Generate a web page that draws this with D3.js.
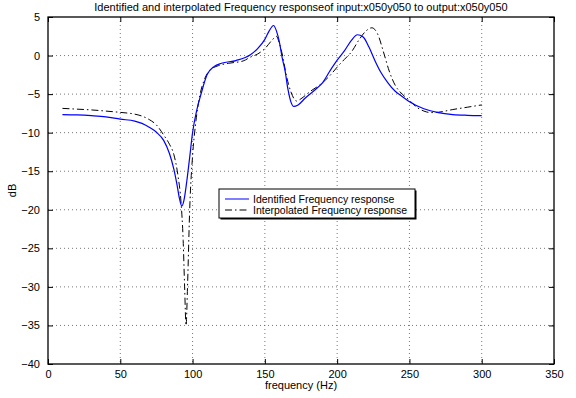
<!DOCTYPE html>
<html>
<head>
<meta charset="utf-8">
<script src="https://cdn.jsdelivr.net/npm/d3@7"></script>
<style>
  body { margin: 0; background: #fff; }
  svg { display: block; font-family: "Liberation Sans", Arial, sans-serif; }
</style>
</head>
<body>
<div id="chart"></div>
<script>
// identified response (blue, solid)
const identFreq = [10,20,30,40,50,60,65,70,75,80,84,87,89,91,92.5,94,96,98,100,103,106,110,115,120,130,140,145,150,153,156,158,160,162,164,166,168,170,173,178,185,190,195,200,205,210,214,218,222,226,230,235,240,245,250,260,270,280,290,300];
const identDb = [-7.65,-7.7,-7.8,-7.95,-8.25,-8.5,-8.8,-9.3,-9.95,-11.0,-12.7,-14.7,-16.5,-18.6,-19.5,-18.8,-16.3,-13.2,-10.0,-7.0,-4.9,-2.5,-1.4,-1.0,-0.65,0.1,0.9,2.1,3.2,3.9,3.2,1.8,-0.3,-2.0,-4.4,-6.0,-6.6,-6.4,-5.5,-4.4,-3.5,-2.0,-0.6,0.6,2.0,2.7,2.4,1.1,-0.6,-2.1,-3.5,-4.6,-5.3,-6.0,-6.9,-7.4,-7.65,-7.75,-7.8];

// interpolated response (black, dash-dot)
const interpFreq = [10,20,30,40,50,60,65,70,75,80,84,87,90,92,93.5,94.5,95.5,96.5,98,100,102,105,108,112,118,125,135,140,145,150,155,158,160,162,165,168,172,175,181,188,195,200,205,210,215,220,224,228,232,236,240,245,250,255,260,265,270,280,290,300];
const interpDb = [-6.85,-6.95,-7.05,-7.2,-7.37,-7.6,-7.85,-8.3,-9.0,-10.3,-11.5,-12.8,-15.7,-19,-24,-30,-35,-30,-20,-13,-9,-5.2,-3.2,-1.9,-1.3,-1.0,-0.7,-0.2,0.2,0.9,2.0,2.5,1.6,0.2,-2.7,-4.7,-5.9,-5.6,-4.7,-3.8,-2.6,-1.5,-0.5,0.5,2.0,3.2,3.6,2.8,0.5,-2.0,-3.8,-5.0,-5.8,-6.7,-7.2,-7.4,-7.35,-7.0,-6.7,-6.4];

const xTicks = [0,50,100,150,200,250,300,350];
const yTicks = [5,0,-5,-10,-15,-20,-25,-30,-35,-40];
const seriesNames = ["Identified Frequency response", "Interpolated Frequency response"];
const title = "Identified and interpolated Frequency responseof input:x050y050 to output:x050y050";

const width = 576, height = 398;
const margin = { top: 17, right: 22, bottom: 34, left: 48 };
const iw = width - margin.left - margin.right;
const ih = height - margin.top - margin.bottom;

const svg = d3.select("#chart").append("svg")
  .attr("width", width)
  .attr("height", height);

const x = d3.scaleLinear().domain([0, 350]).range([margin.left, margin.left + iw]);
const y = d3.scaleLinear().domain([-40, 5]).range([margin.top + ih, margin.top]);

const fmt = d => String(d).replace("-", "\u2212");

// grid
const grid = svg.append("g")
  .attr("stroke", "#555")
  .attr("stroke-width", 0.8)
  .attr("stroke-dasharray", "1,3");
grid.selectAll("line.vx")
  .data(xTicks.slice(1, -1))
  .enter().append("line")
  .attr("x1", d => x(d)).attr("x2", d => x(d))
  .attr("y1", margin.top).attr("y2", margin.top + ih);
grid.selectAll("line.hy")
  .data(yTicks.slice(1, -1))
  .enter().append("line")
  .attr("x1", margin.left).attr("x2", margin.left + iw)
  .attr("y1", d => y(d)).attr("y2", d => y(d));

// axes (ticks inward, box on)
const axisStyle = g => {
  g.select(".domain").remove();
  g.selectAll("line").attr("stroke", "#000");
  g.selectAll("text").attr("fill", "#000").attr("font-size", 11);
};
svg.append("g")
  .attr("transform", `translate(0,${margin.top + ih})`)
  .call(d3.axisBottom(x).tickValues(xTicks).tickSize(-5).tickPadding(6).tickFormat(fmt))
  .call(axisStyle);
svg.append("g")
  .attr("transform", `translate(0,${margin.top})`)
  .call(d3.axisTop(x).tickValues(xTicks).tickSize(-5).tickFormat(""))
  .call(axisStyle);
svg.append("g")
  .attr("transform", `translate(${margin.left},0)`)
  .call(d3.axisLeft(y).tickValues(yTicks).tickSize(-5).tickPadding(8).tickFormat(fmt))
  .call(axisStyle);
svg.append("g")
  .attr("transform", `translate(${margin.left + iw},0)`)
  .call(d3.axisRight(y).tickValues(yTicks).tickSize(-5).tickFormat(""))
  .call(axisStyle);

svg.append("rect")
  .attr("x", margin.left).attr("y", margin.top)
  .attr("width", iw).attr("height", ih)
  .attr("fill", "none").attr("stroke", "#000").attr("stroke-width", 1.3);

// lines
const line = d3.line().curve(d3.curveMonotoneX).x(d => x(d[0])).y(d => y(d[1]));

svg.append("path")
  .datum(interpFreq.map((f, i) => [f, interpDb[i]]))
  .attr("fill", "none")
  .attr("stroke", "#000")
  .attr("stroke-width", 1)
  .attr("stroke-dasharray", "7,3,1.5,3")
  .attr("d", line);

svg.append("path")
  .datum(identFreq.map((f, i) => [f, identDb[i]]))
  .attr("fill", "none")
  .attr("stroke", "#0000ff")
  .attr("stroke-width", 1.2)
  .attr("d", line);

// labels
svg.append("text")
  .attr("x", x(175)).attr("y", 11)
  .attr("text-anchor", "middle")
  .attr("font-size", 11)
  .text(title);
svg.append("text")
  .attr("x", x(175)).attr("y", 389)
  .attr("text-anchor", "middle")
  .attr("font-size", 11)
  .text("frequency (Hz)");
svg.append("text")
  .attr("transform", `translate(16,${y(-17.5)}) rotate(-90)`)
  .attr("text-anchor", "middle")
  .attr("font-size", 11)
  .text("dB");

// legend
const lg = svg.append("g").attr("transform", "translate(219,189)");
lg.append("rect")
  .attr("x", 1.5).attr("y", 1.5).attr("width", 196).attr("height", 29)
  .attr("fill", "#000");
lg.append("rect")
  .attr("width", 196).attr("height", 29)
  .attr("fill", "#fff").attr("stroke", "#000").attr("stroke-width", 1);
const styles = [
  { stroke: "#0000ff", dash: null },
  { stroke: "#000", dash: "7,3,1.5,3" }
];
seriesNames.forEach((name, i) => {
  const yy = 10 + i * 11;
  lg.append("line")
    .attr("x1", 6).attr("x2", 30)
    .attr("y1", yy).attr("y2", yy)
    .attr("stroke", styles[i].stroke)
    .attr("stroke-width", 1)
    .attr("stroke-dasharray", styles[i].dash);
  lg.append("text")
    .attr("x", 34).attr("y", yy + 4)
    .attr("font-size", 10.5)
    .text(name);
});
</script>
</body>
</html>
